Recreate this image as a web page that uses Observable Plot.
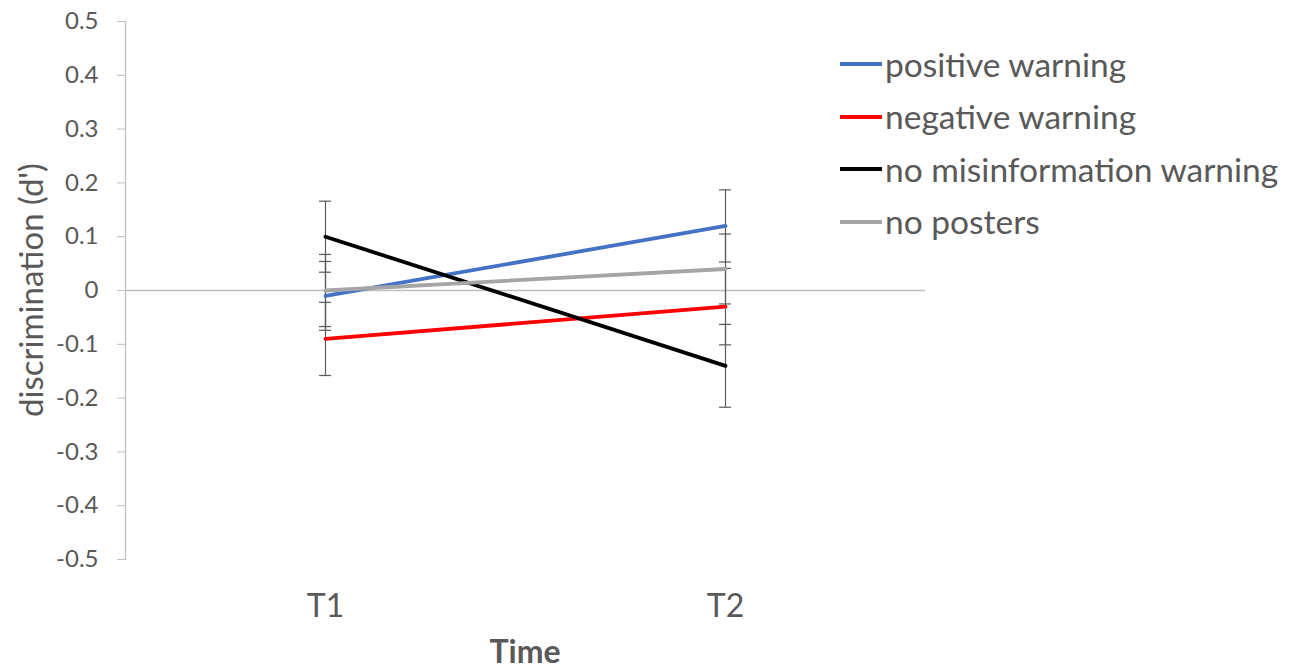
<!DOCTYPE html>
<html>
<head>
<meta charset="utf-8">
<script src="https://cdn.jsdelivr.net/npm/d3@7"></script>
<script src="https://cdn.jsdelivr.net/npm/@observablehq/plot@0.6"></script>
<style>
  html, body { margin: 0; padding: 0; background: #fff; }
  #wrap { position: relative; width: 1302px; height: 670px; overflow: hidden; font-family: Lato, "Liberation Sans", sans-serif; color: #595959; }
  #wrap svg { position: absolute; left: 0; top: 0; }
  .ov { position: absolute; white-space: nowrap; line-height: 1; }
  #ylab { left: 30px; top: 290px; transform: translate(-50%, -50%) rotate(-90deg); font-size: 33px; }
  #xlab { left: 525px; top: 651px; transform: translate(-50%, -50%); font-size: 32px; font-weight: bold; }
  #legend { left: 840px; top: 38px; font-size: 33.5px; }
  .li { display: flex; align-items: center; height: 52.5px; }
  .sw { width: 42px; height: 4px; margin-right: 3px; }
</style>
</head>
<body>
<div id="wrap">
  <div id="ylab" class="ov">discrimination (d')</div>
  <div id="xlab" class="ov">Time</div>
  <div id="legend" class="ov"></div>
</div>
<script>
const times = ["T1", "T2"];
const seriesNames = ["positive warning", "negative warning", "no misinformation warning", "no posters"];
const seriesColors = ["#4472C4", "#FF0000", "#000000", "#A5A5A5"];
const positiveWarning = [-0.01, 0.12];
const negativeWarning = [-0.09, -0.03];
const noMisinfoWarning = [0.10, -0.14];
const noPosters = [0.0, 0.04];
const positiveErr = [0.064, 0.067];
const negativeErr = [0.068, 0.071];
const noMisinfoErr = [0.066, 0.077];
const noPostersErr = [0.067, 0.065];
const yTicks = [-0.5, -0.4, -0.3, -0.2, -0.1, 0, 0.1, 0.2, 0.3, 0.4, 0.5];

const values = [positiveWarning, negativeWarning, noMisinfoWarning, noPosters];
const errs = [positiveErr, negativeErr, noMisinfoErr, noPostersErr];
const data = [];
seriesNames.forEach((s, i) => times.forEach((t, j) => data.push({series: s, time: t, v: values[i][j], e: errs[i][j]})));

const chart = Plot.plot({
  width: 1302,
  height: 670,
  marginLeft: 125,
  marginRight: 377,
  marginTop: 21,
  marginBottom: 111,
  style: {fontFamily: "Lato, 'Liberation Sans', sans-serif", background: "transparent"},
  x: {type: "band", domain: times, padding: 0, label: null},
  y: {domain: [-0.5, 0.5], label: null},
  color: {domain: seriesNames, range: seriesColors},
  marks: [
    Plot.frame({anchor: "left", stroke: "#bfbfbf", strokeWidth: 1.3}),
    Plot.ruleY([0], {stroke: "#bfbfbf", strokeWidth: 1.3}),
    Plot.axisY({ticks: yTicks, tickSize: 8, tickPadding: 19, fontSize: 24, color: "#595959", stroke: "#bfbfbf",
      tickFormat: d => Math.abs(d) < 1e-9 ? "0" : String(+d.toFixed(1)), label: null}),
    Plot.axisX({tickSize: 0, tickPadding: 35, fontSize: 32, color: "#595959", label: null}),
    Plot.ruleX(data, {x: "time", y1: d => d.v - d.e, y2: d => d.v + d.e, stroke: "#595959", strokeWidth: 1.2}),
    Plot.tickY(data, {x: "time", y: d => d.v - d.e, stroke: "#595959", strokeWidth: 1.2, insetLeft: 194, insetRight: 194}),
    Plot.tickY(data, {x: "time", y: d => d.v + d.e, stroke: "#595959", strokeWidth: 1.2, insetLeft: 194, insetRight: 194}),
    Plot.line(data, {x: "time", y: "v", z: "series", stroke: "series", strokeWidth: 3.8})
  ]
});
document.getElementById("wrap").prepend(chart);

const legend = document.getElementById("legend");
seriesNames.forEach((s, i) => {
  const row = document.createElement("div");
  row.className = "li";
  const sw = document.createElement("div");
  sw.className = "sw";
  sw.style.background = seriesColors[i];
  const tx = document.createElement("span");
  tx.textContent = s;
  row.appendChild(sw);
  row.appendChild(tx);
  legend.appendChild(row);
});
</script>
</body>
</html>
